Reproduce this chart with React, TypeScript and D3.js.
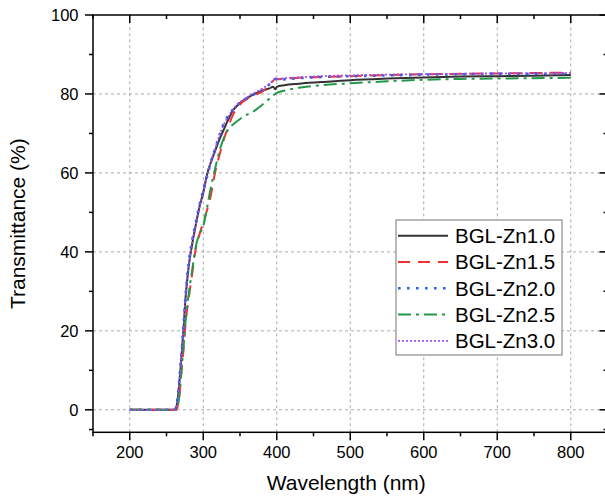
import React, { useEffect, useRef } from "react";
import * as d3 from "d3";

const wavelengths = [200, 220, 240, 255, 260, 263, 266, 268, 270, 273, 276, 280, 285, 290, 295, 300, 305, 310, 316, 322, 328, 334, 340, 346, 352, 360, 370, 380, 390, 395, 398, 400, 410, 430, 460, 500, 550, 600, 650, 700, 750, 800];

const zn10 = [0, 0, 0, 0, 0, 0.5, 4, 8, 12.5, 20, 28.5, 36, 42, 47, 51.5, 55, 59.5, 62.5, 65.5, 68.5, 71, 73.5, 75.7, 77, 78, 79, 80, 80.8, 81.4, 81.8, 81.2, 81.8, 82.2, 82.6, 83, 83.5, 83.9, 84.2, 84.4, 84.5, 84.6, 84.8];
const zn15 = [0, 0, 0, 0, 0, 0, 1.5, 4.5, 9, 15, 22, 28, 34.5, 41, 44.5, 47.5, 50.5, 54, 60, 64.5, 68.5, 71.7, 74.5, 76.5, 77.7, 78.8, 79.7, 80.6, 82.2, 83.3, 83.9, 83.7, 83.8, 84.1, 84.3, 84.5, 84.8, 85, 85.1, 85.2, 85.3, 85.4];
const zn20 = [0, 0, 0, 0, 0, 0.6, 4.5, 9, 13.5, 21, 29, 37, 43, 47.5, 52, 55.5, 59, 62.5, 66, 69.5, 72.5, 74.5, 76, 77.2, 78, 79, 80, 81, 82.4, 83.2, 83.8, 83.6, 83.7, 84, 84.3, 84.5, 84.7, 84.9, 85, 85.1, 85.1, 85.2];
const zn25 = [0, 0, 0, 0, 0, 0, 1.5, 4.5, 9, 15.5, 22.5, 29, 35.5, 41.5, 44.5, 46.5, 51, 56, 61, 65.5, 68.8, 71, 72.2, 73.1, 73.9, 74.8, 75.8, 77.2, 78.8, 79.6, 80, 80.3, 80.8, 81.6, 82.2, 82.7, 83.2, 83.6, 83.8, 83.9, 84, 84.1];
const zn30 = [0, 0, 0, 0, 0, 0.5, 4, 8.5, 13, 20.5, 28.5, 36, 42.5, 47, 51.5, 55, 59, 62.5, 66, 69.5, 72.3, 74.3, 76, 77.2, 78.2, 79.2, 80.3, 81.3, 82.6, 83.4, 83.9, 83.8, 84, 84.2, 84.5, 84.7, 84.9, 85, 85.1, 85.2, 85.2, 85.3];

const seriesNames = ["BGL-Zn1.0", "BGL-Zn1.5", "BGL-Zn2.0", "BGL-Zn2.5", "BGL-Zn3.0"];
const seriesValues = [zn10, zn15, zn20, zn25, zn30];
const seriesColors = ["#333333", "#ee3333", "#2a62e0", "#22994a", "#a04fec"];
const seriesDashes = ["none", "12,8", "2.6,6.4", "13,5,3,5", "2,2"];
const seriesWidths = [2, 2, 2.6, 2, 1.8];

const xMajorTicks = [200, 300, 400, 500, 600, 700, 800];
const xMinorTicks = [150, 250, 350, 450, 550, 650, 750, 850];
const yMajorTicks = [0, 20, 40, 60, 80, 100];
const yMinorTicks = [-5, 10, 30, 50, 70, 90];

const xTitle = "Wavelength (nm)";
const yTitle = "Transmittance (%)";

export default function App() {
  const ref = useRef<SVGSVGElement | null>(null);

  useEffect(() => {
    const svg = d3.select(ref.current);
    svg.selectAll("*").remove();
    const L = 93, R = 607.5, T = 15, B = 432.3;
    const x = d3.scaleLinear().domain([150, 850]).range([L, R]);
    const y = d3.scaleLinear().domain([-5.7, 100]).range([B, T]);
    const font = "'Liberation Sans', Arial, sans-serif";

    svg.append("rect").attr("width", 605).attr("height", 497).attr("fill", "white");

    // grid
    const grid = svg.append("g").attr("stroke", "#aaaaaa").attr("stroke-width", 1).attr("stroke-dasharray", "3,3");
    xMajorTicks.forEach((v) => {
      grid.append("line").attr("x1", x(v)).attr("x2", x(v)).attr("y1", B).attr("y2", T);
    });
    yMajorTicks.filter((v) => v < 100).forEach((v) => {
      grid.append("line").attr("x1", L).attr("x2", R).attr("y1", y(v)).attr("y2", y(v));
    });

    // clip
    svg.append("defs").append("clipPath").attr("id", "clip")
      .append("rect").attr("x", L).attr("y", T).attr("width", R - L).attr("height", B - T);

    const plot = svg.append("g").attr("clip-path", "url(#clip)");
    seriesValues.forEach((vals, i) => {
      const pts: [number, number][] = wavelengths.map((w, j) => [w, vals[j]]);
      const line = d3.line<[number, number]>()
        .x((d) => x(d[0]))
        .y((d) => y(d[1]))
        .curve(d3.curveMonotoneX);
      plot.append("path")
        .attr("d", line(pts) as string)
        .attr("fill", "none")
        .attr("stroke", seriesColors[i])
        .attr("stroke-width", seriesWidths[i])
        .attr("stroke-dasharray", seriesDashes[i]);
    });

    // frame and ticks
    const ax = svg.append("g").attr("stroke", "#000").attr("stroke-width", 1.5);
    ax.append("rect").attr("x", L).attr("y", T).attr("width", R - L).attr("height", B - T).attr("fill", "none");
    xMajorTicks.forEach((v) => {
      ax.append("line").attr("x1", x(v)).attr("x2", x(v)).attr("y1", B).attr("y2", B + 8);
      ax.append("line").attr("x1", x(v)).attr("x2", x(v)).attr("y1", T).attr("y2", T + 8);
    });
    xMinorTicks.forEach((v) => {
      ax.append("line").attr("x1", x(v)).attr("x2", x(v)).attr("y1", B).attr("y2", B + 4);
      ax.append("line").attr("x1", x(v)).attr("x2", x(v)).attr("y1", T).attr("y2", T + 4);
    });
    yMajorTicks.forEach((v) => {
      ax.append("line").attr("x1", L - 8).attr("x2", L).attr("y1", y(v)).attr("y2", y(v));
      ax.append("line").attr("x1", R - 8).attr("x2", R).attr("y1", y(v)).attr("y2", y(v));
    });
    yMinorTicks.forEach((v) => {
      ax.append("line").attr("x1", L - 4).attr("x2", L).attr("y1", y(v)).attr("y2", y(v));
      ax.append("line").attr("x1", R - 4).attr("x2", R).attr("y1", y(v)).attr("y2", y(v));
    });

    // tick labels
    const tl = svg.append("g").attr("font-family", font).attr("font-size", 16.5).attr("fill", "#000");
    xMajorTicks.forEach((v) => {
      tl.append("text").attr("x", x(v)).attr("y", 457.5).attr("text-anchor", "middle").text(String(v));
    });
    yMajorTicks.forEach((v) => {
      tl.append("text").attr("x", 78.5).attr("y", y(v) + 5.8).attr("text-anchor", "end").text(String(v));
    });

    // titles
    svg.append("text").attr("x", (L + R) / 2 - 4).attr("y", 490).attr("text-anchor", "middle")
      .attr("font-family", font).attr("font-size", 21).text(xTitle);
    svg.append("text").attr("transform", `translate(25,${(T + B) / 2}) rotate(-90)`).attr("text-anchor", "middle")
      .attr("font-family", font).attr("font-size", 21).text(yTitle);

    // legend
    const lg = svg.append("g");
    lg.append("rect").attr("x", 396).attr("y", 220).attr("width", 166).attr("height", 135)
      .attr("fill", "white").attr("stroke", "#8a8a8a").attr("stroke-width", 1.2);
    seriesNames.forEach((name, i) => {
      const cy = 235.7 + i * 26.3;
      lg.append("line").attr("x1", 398).attr("x2", 448).attr("y1", cy).attr("y2", cy)
        .attr("stroke", seriesColors[i]).attr("stroke-width", seriesWidths[i]).attr("stroke-dasharray", seriesDashes[i]);
      lg.append("text").attr("x", 455).attr("y", cy + 7.3).attr("font-family", font).attr("font-size", 20.5)
        .attr("fill", "#000").text(name);
    });
  }, []);

  return (
    <svg ref={ref} width={605} height={497} style={{ position: "absolute", left: 0, top: 0 }} />
  );
}
